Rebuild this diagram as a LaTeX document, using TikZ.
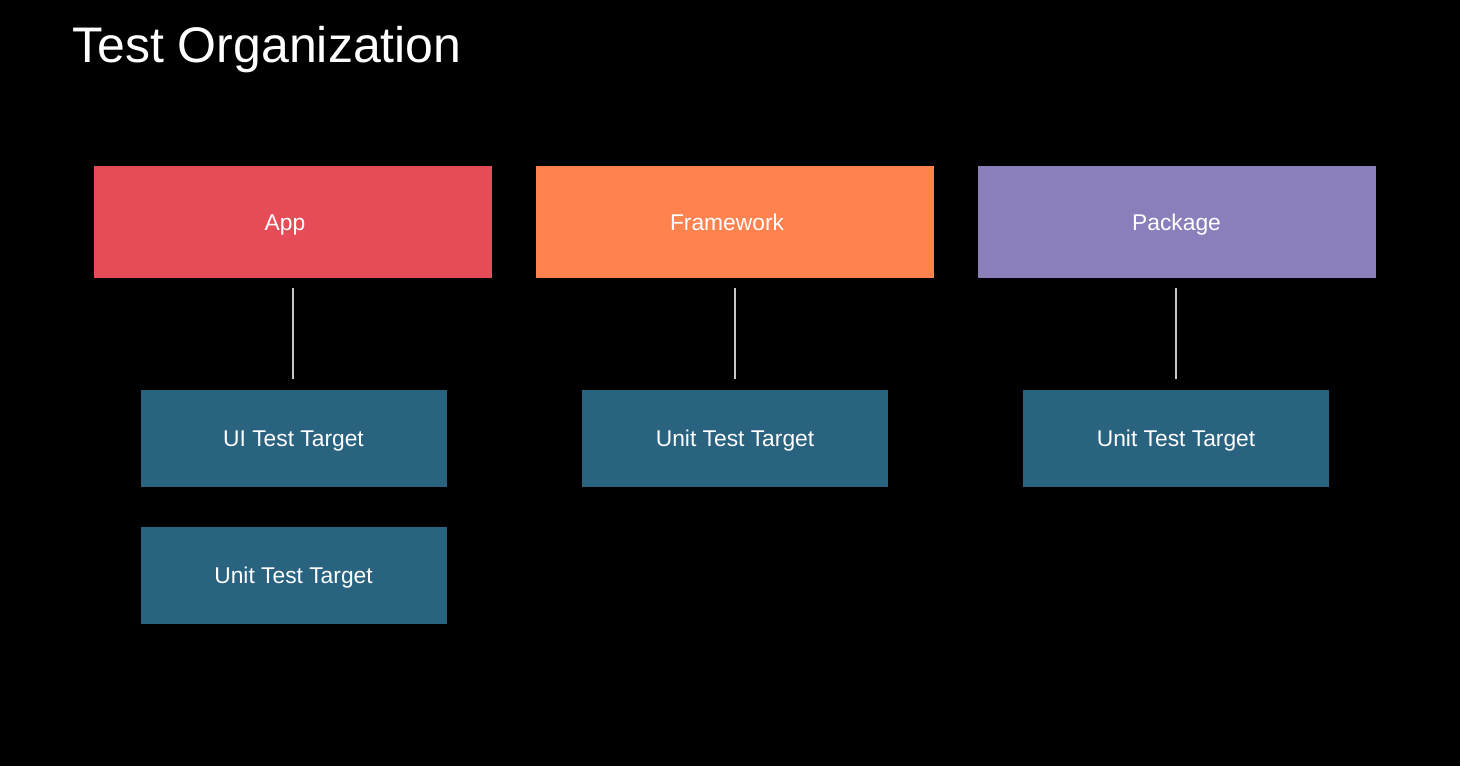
\documentclass[tikz,border=0pt]{standalone}
\usepackage{fontspec}
\setmainfont{Liberation Sans}
\definecolor{appred}{HTML}{E64C57}
\definecolor{fworange}{HTML}{FF824F}
\definecolor{pkgpurple}{HTML}{8A7FBA}
\definecolor{testblue}{HTML}{29637F}
\definecolor{linegray}{HTML}{C8C8C8}
\begin{document}
\begin{tikzpicture}[x=0.5pt,y=-0.5pt,
  lbl/.style={inner sep=0pt,text=white,text height=8.2pt,text depth=0pt,font=\fontsize{11.4}{13}\selectfont},
  topbox/.style={lbl,minimum width=199pt,minimum height=56pt},
  testbox/.style={lbl,fill=testblue,minimum width=153pt,minimum height=48.5pt},
  conn/.style={draw=linegray,line width=1pt}]
\fill[black] (0,0) rectangle (1460,766);
\useasboundingbox (0,0) rectangle (1460,766);
\node[anchor=base west,text=white,inner sep=0pt,font=\fontsize{25}{30}\selectfont] (title) at (72,62) {Test Organization};
\node[topbox,fill=appred] (app) at (293,222) {\hspace*{-8pt}App};
\node[topbox,fill=fworange] (fw) at (734.5,222) {\hspace*{-7.5pt}Framework};
\node[topbox,fill=pkgpurple] (pkg) at (1176.5,222) {Package};
\node[testbox] (ui) at (293.5,438) {UI Test Target};
\node[testbox] (unitapp) at (293.5,575.5) {Unit Test Target};
\node[testbox] (unitfw) at (735,438) {Unit Test Target};
\node[testbox] (unitpkg) at (1176,438) {Unit Test Target};
\coordinate (a1) at (293.3,288);
\coordinate (f1) at (735,288);
\coordinate (p1) at (1176,288);
\draw[conn] (a1) -- (a1 |- 0,379);
\draw[conn] (f1) -- (f1 |- 0,379);
\draw[conn] (p1) -- (p1 |- 0,379);
\end{tikzpicture}
\end{document}
